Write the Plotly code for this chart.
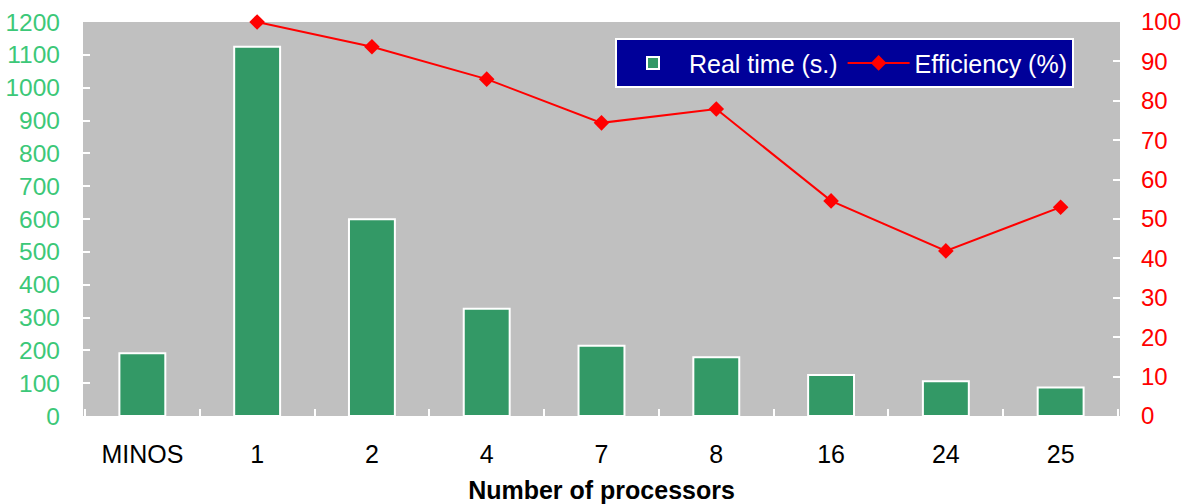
import plotly.graph_objects as go

categories = ["MINOS", "1", "2", "4", "7", "8", "16", "24", "25"]
real_time = [191, 1125, 599, 327, 214, 179, 125, 106, 87]
efficiency = [None, 100, 93.7, 85.5, 74.4, 77.9, 54.6, 41.9, 53.0]

FONT = "Liberation Sans, Arial, sans-serif"

fig = go.Figure()
fig.add_trace(go.Bar(
    x=categories, y=real_time, name="Real time (s.)",
    marker=dict(color="#339966", line=dict(color="white", width=2)),
    yaxis="y",
))
fig.add_trace(go.Scatter(
    x=categories, y=efficiency, name="Efficiency (%)",
    mode="lines+markers",
    line=dict(color="#FF0000", width=2),
    marker=dict(symbol="diamond", size=12, color="#FF0000"),
    yaxis="y2", cliponaxis=False,
))

fig.update_layout(
    width=1190, height=504,
    margin=dict(l=83, r=70, t=22, b=88, autoexpand=False),
    paper_bgcolor="white", plot_bgcolor="#C0C0C0",
    bargap=0.6,
    font=dict(family=FONT, size=25, color="black"),
    showlegend=True,
    legend=dict(
        orientation="h", x=0.513, y=0.959, xanchor="left", yanchor="top",
        bgcolor="#000099", bordercolor="white", borderwidth=2,
        font=dict(color="white", size=25, family=FONT),
        itemwidth=62, tracegroupgap=0,
    ),
    xaxis=dict(
        type="category", tickson="boundaries", ticks="inside", ticklen=7,
        tickcolor="white", tickwidth=2, showline=True, linecolor="white",
        linewidth=2, showgrid=False, ticklabelstandoff=15, automargin=False,
        tickfont=dict(size=25, color="black", family=FONT),
        title=dict(text="<b>Number of processors</b>", standoff=19,
                   font=dict(size=25, color="black", family=FONT)),
    ),
    yaxis=dict(
        range=[0, 1200], dtick=100, ticks="inside", ticklen=7, tickwidth=2,
        tickcolor="white", showgrid=False, zeroline=False, showline=False,
        tickfont=dict(size=24.5, color="#3CC878", family=FONT),
        ticklabelstandoff=22, automargin=False,
    ),
    yaxis2=dict(
        range=[0, 100], dtick=10, overlaying="y", side="right",
        ticks="inside", ticklen=7, tickwidth=2, tickcolor="white",
        showgrid=False, zeroline=False, showline=False,
        tickfont=dict(size=24, color="#FF0000", family=FONT),
        ticklabelstandoff=20, automargin=False,
    ),
)

fig.write_html(
    "out.html",
    config={"displayModeBar": False},
    post_script="document.body.style.margin='0';document.body.style.overflow='hidden';",
)
